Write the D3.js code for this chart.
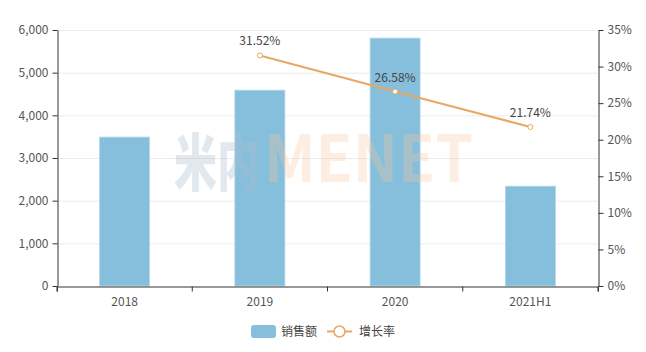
<!DOCTYPE html>
<html>
<head>
<meta charset="utf-8">
<script src="https://cdn.jsdelivr.net/npm/d3@7"></script>
<style>
body { margin: 0; background: #fff; }
text { font-family: "Noto Sans CJK SC", "Noto Sans", sans-serif; }
</style>
</head>
<body>
<script>
// categories and values
var years = ["2018", "2019", "2020", "2021H1"];
var sales = [3490, 4590, 5810, 2340];
var growth = [null, 31.52, 26.58, 21.74];
var leftTicks = [0, 1000, 2000, 3000, 4000, 5000, 6000];
var rightTicks = [0, 5, 10, 15, 20, 25, 30, 35];

var W = 646, H = 352;
var mLeft = 57, mRight = 598, mTop = 30, mBottom = 286;

var svg = d3.select("body").append("svg").attr("width", W).attr("height", H);

var x = d3.scaleBand().domain(years).range([mLeft, mRight]).paddingInner(0.63).paddingOuter(0.315);
var xTick = d3.scaleBand().domain(years).range([mLeft, mRight]);
var y = d3.scaleLinear().domain([0, 6000]).range([mBottom, mTop]);
var y2 = d3.scaleLinear().domain([0, 35]).range([mBottom, mTop]);

//grid lines
svg.append("g").selectAll("line").data(leftTicks.slice(1)).join("line")
    .attr("x1", mLeft).attr("x2", mRight)
    .attr("y1", function(d){ return y(d) + 0.5; }).attr("y2", function(d){ return y(d) + 0.5; })
    .attr("stroke", "#ececec");

//bars
svg.append("g").selectAll("rect").data(years).join("rect")
    .attr("x", function(d){ return x(d); })
    .attr("y", function(d,i){ return y(sales[i]); })
    .attr("width", x.bandwidth())
    .attr("height", function(d,i){ return y(0) - y(sales[i]); })
    .attr("fill", "#86bfdc")
    .attr("stroke", "#b5d8ea").attr("stroke-width", 0.8);

//watermark
svg.append("text").attr("x", 174).attr("y", 186)
    .attr("font-size", 62).attr("font-weight", 900)
    .attr("textLength", 86).attr("lengthAdjust", "spacingAndGlyphs")
    .attr("fill", "#a9bfcf").attr("fill-opacity", 0.35)
    .text("米内");
svg.append("text").attr("x", 264).attr("y", 182)
    .attr("font-size", 65).attr("font-weight", "bold")
    .attr("font-family", "'Liberation Sans', sans-serif")
    .attr("textLength", 209).attr("lengthAdjust", "spacingAndGlyphs")
    .attr("fill", "#f7c79b").attr("fill-opacity", 0.3)
    .text("MENET");

//axes
var tickColor = "#555";
var gx = svg.append("g").attr("transform", "translate(0," + (mBottom + 0.5) + ")")
    .call(d3.axisBottom(xTick).tickSize(5).tickSizeOuter(5).tickPadding(6));
gx.selectAll(".tick line").attr("transform", "translate(" + (-xTick.bandwidth()/2) + ",0)");
gx.append("line").attr("x1", mRight).attr("x2", mRight).attr("y1", 0).attr("y2", 5).attr("stroke", "#333");

var gy = svg.append("g").attr("transform", "translate(" + (mLeft + 0.5) + ",0)")
    .call(d3.axisLeft(y).tickValues(leftTicks).tickFormat(d3.format(",")).tickSize(5).tickSizeOuter(0).tickPadding(4));

var gy2 = svg.append("g").attr("transform", "translate(" + (mRight + 0.5) + ",0)")
    .call(d3.axisRight(y2).tickValues(rightTicks).tickFormat(function(d){ return d + "%"; }).tickSize(5).tickSizeOuter(0).tickPadding(4));

[gx, gy, gy2].forEach(function(g){
    g.select(".domain").attr("stroke", "#333");
    g.selectAll(".tick line").attr("stroke", "#333");
    g.selectAll("text").attr("fill", tickColor).attr("font-size", 12)
        .attr("font-family", "'Noto Sans CJK SC', sans-serif");
});

//growth line
var pts = years.map(function(d,i){ return {k: d, v: growth[i]}; }).filter(function(d){ return d.v != null; });
var line = d3.line()
    .x(function(d){ return xTick(d.k) + xTick.bandwidth()/2; })
    .y(function(d){ return y2(d.v); });
svg.append("path").attr("d", line(pts))
    .attr("fill", "none").attr("stroke", "#e8a864").attr("stroke-width", 2);
svg.append("g").selectAll("circle").data(pts).join("circle")
    .attr("cx", function(d){ return xTick(d.k) + xTick.bandwidth()/2; })
    .attr("cy", function(d){ return y2(d.v); })
    .attr("r", 2.5).attr("fill", "#fff").attr("stroke", "#e8a864").attr("stroke-width", 1);
svg.append("g").selectAll("text").data(pts).join("text")
    .attr("x", function(d){ return xTick(d.k) + xTick.bandwidth()/2; })
    .attr("y", function(d){ return y2(d.v) - 10; })
    .attr("text-anchor", "middle").attr("font-size", 12).attr("fill", "#444")
    .text(function(d){ return d.v.toFixed(2) + "%"; });

//legend
var lg = svg.append("g").attr("transform", "translate(0,331)");
lg.append("rect").attr("x", 251).attr("y", -6).attr("width", 25).attr("height", 13).attr("rx", 3).attr("fill", "#86bfdc");
lg.append("text").attr("x", 281).attr("y", 4.5).attr("font-size", 12).attr("fill", "#444").text("销售额");
lg.append("line").attr("x1", 327).attr("x2", 352).attr("y1", 0.5).attr("y2", 0.5).attr("stroke", "#e8a864").attr("stroke-width", 2);
lg.append("circle").attr("cx", 339.5).attr("cy", 0.5).attr("r", 5.5).attr("fill", "#fff").attr("stroke", "#e8a864").attr("stroke-width", 1.5);
lg.append("text").attr("x", 359).attr("y", 4.5).attr("font-size", 12).attr("fill", "#444").text("增长率");
</script>
</body>
</html>
